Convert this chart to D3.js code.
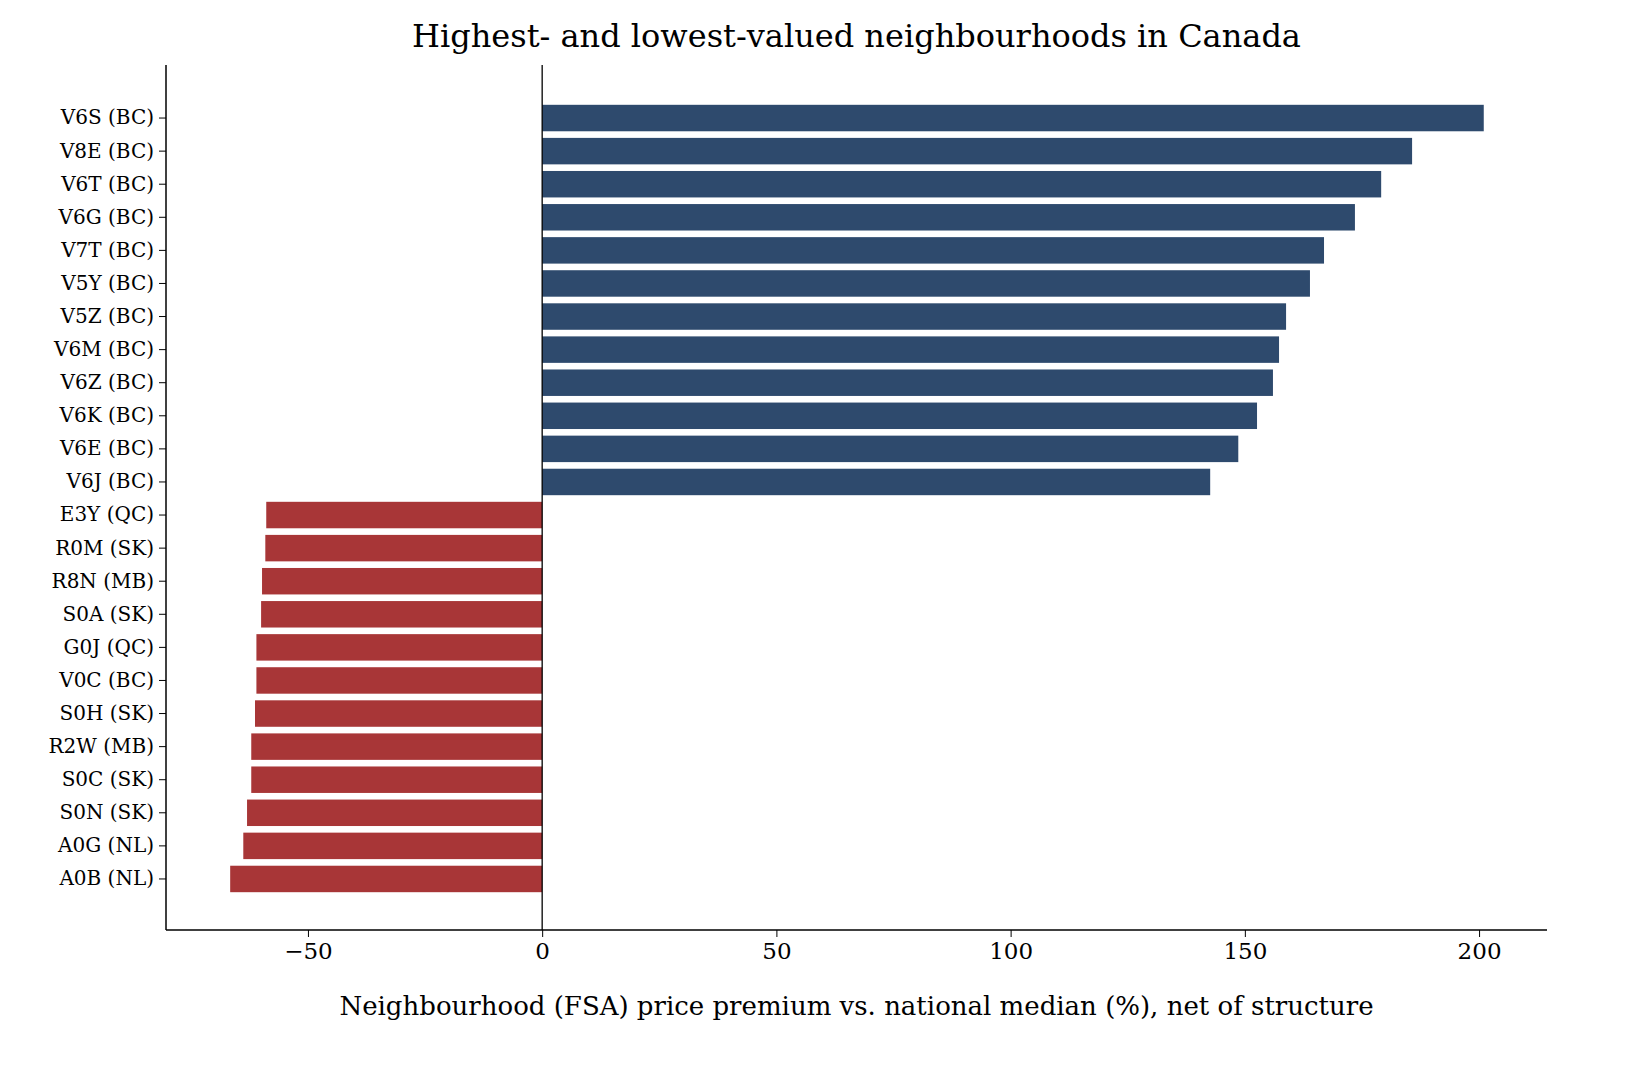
<!DOCTYPE html>
<html><head><meta charset="utf-8">
<script src="https://cdn.jsdelivr.net/npm/d3@7"></script>
<style>body{margin:0;background:#fff}svg text{font-family:"DejaVu Serif",serif;fill:#000}</style>
</head><body><svg id="c" width="1628" height="1085"></svg>
<script>
const labels=["V6S (BC)","V8E (BC)","V6T (BC)","V6G (BC)","V7T (BC)","V5Y (BC)","V5Z (BC)","V6M (BC)","V6Z (BC)","V6K (BC)","V6E (BC)","V6J (BC)","E3Y (QC)","R0M (SK)","R8N (MB)","S0A (SK)","G0J (QC)","V0C (BC)","S0H (SK)","R2W (MB)","S0C (SK)","S0N (SK)","A0G (NL)","A0B (NL)"];
const values=[201.0,185.7,179.1,173.5,166.9,163.9,158.8,157.3,156.0,152.6,148.6,142.6,-58.9,-59.1,-59.8,-60.0,-61.0,-61.0,-61.3,-62.1,-62.1,-63.0,-63.8,-66.6];
const xTicks=[-50,0,50,100,150,200];
const svg=d3.select("#c");
const L=166,R=1547,T=65,B=930;
const x=d3.scaleLinear().domain([-80.3,214.5]).range([L,R]);
const y=d3.scaleBand().domain(labels).range([101.5,895.5]).paddingInner(0.2).paddingOuter(0.1);
svg.selectAll("rect.bar").data(values).enter().append("rect")
 .attr("x",d=>x(Math.min(0,d))).attr("width",d=>Math.abs(x(d)-x(0)))
 .attr("y",(d,i)=>y(labels[i])).attr("height",y.bandwidth())
 .attr("fill",d=>d>=0?"#2e4a6d":"#a83637");
svg.append("line").attr("x1",x(0)).attr("x2",x(0)).attr("y1",T).attr("y2",B).attr("stroke","#000").attr("stroke-width",1.3);
const xa=svg.append("g").attr("transform",`translate(0,${B})`).call(d3.axisBottom(x).tickValues(xTicks).tickSize(7).tickPadding(6).tickFormat(d=>d<0?"\u2212"+Math.abs(d):d));
xa.select(".domain").attr("d",`M${L},0H${R}`);
xa.selectAll("text").style("font-size","23px");
const ya=svg.append("g").attr("transform",`translate(${L},0)`).call(d3.axisLeft(y).tickSize(7).tickPadding(5));
ya.select(".domain").attr("d",`M0,${T}V${B}`);
ya.selectAll("text").style("font-size","20px");
svg.selectAll(".domain").attr("stroke","#000").attr("stroke-width",1.5);
svg.append("text").attr("x",(L+R)/2).attr("y",1015).attr("text-anchor","middle").style("font-size","26px").text("Neighbourhood (FSA) price premium vs. national median (%), net of structure");
svg.append("text").attr("x",(L+R)/2).attr("y",47).attr("text-anchor","middle").style("font-size","32px").text("Highest- and lowest-valued neighbourhoods in Canada");
</script></body></html>
